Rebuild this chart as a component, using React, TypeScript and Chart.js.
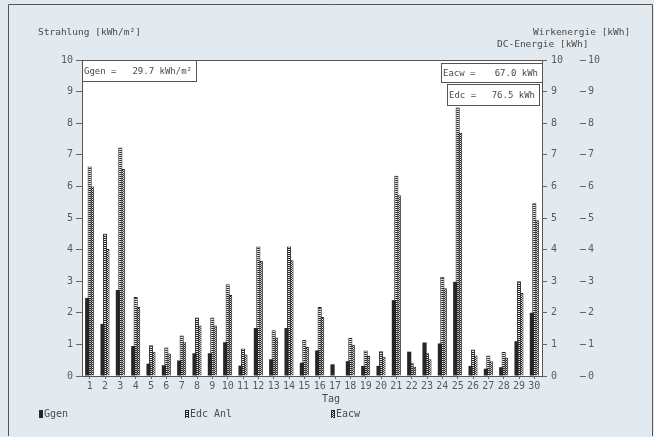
import { useEffect, useRef } from 'react';
import { Chart, registerables } from 'chart.js';

Chart.register(...registerables);

const days = ['1', '2', '3', '4', '5', '6', '7', '8', '9', '10', '11', '12', '13', '14', '15', '16', '17', '18', '19', '20', '21', '22', '23', '24', '25', '26', '27', '28', '29', '30'];
const ggen = [2.47, 1.65, 2.72, 0.95, 0.39, 0.34, 0.49, 0.72, 0.72, 1.07, 0.33, 1.52, 0.53, 1.52, 0.42, 0.81, 0.37, 0.47, 0.32, 0.32, 2.4, 0.77, 1.06, 1.03, 2.98, 0.32, 0.23, 0.28, 1.1, 2.0];
const edcAnl = [6.63, 4.5, 7.23, 2.5, 0.97, 0.9, 1.28, 1.85, 1.85, 2.9, 0.87, 4.1, 1.45, 4.1, 1.14, 2.18, 0, 1.2, 0.81, 0.78, 6.34, 0.42, 0.72, 3.14, 8.5, 0.84, 0.65, 0.76, 3.0, 5.47];
const eacw = [6.0, 4.02, 6.55, 2.18, 0.77, 0.71, 1.07, 1.6, 1.6, 2.56, 0.68, 3.64, 1.22, 3.66, 0.92, 1.87, 0, 0.99, 0.63, 0.61, 5.72, 0.29, 0.53, 2.78, 7.7, 0.65, 0.47, 0.58, 2.63, 4.93];
const seriesNames = ['Ggen', 'Edc Anl', 'Eacw'];
const axisMin = 0;
const axisMax = 10;
const axisStep = 1;
const leftTitle = 'Strahlung [kWh/m²]';
const rightTitle1 = 'Wirkenergie [kWh]';
const rightTitle2 = 'DC-Energie [kWh]';
const xTitle = 'Tag';
const ggenSummary = ['Ggen =', '29.7 kWh/m²'];
const eacwSummary = ['Eacw =', '67.0 kWh'];
const edcSummary = ['Edc =', '76.5 kWh'];

const TEXT = '#4a4a4a';
const TICK = '#5a5a5a';
const DARK = '#262626';
const BG = '#e3eaef';
const MONO = '"DejaVu Sans Mono", "Liberation Mono", monospace';

function makePattern(cells: string[][]) {
  const c = document.createElement('canvas');
  c.height = cells.length;
  c.width = cells[0].length;
  const g = c.getContext('2d')!;
  cells.forEach((row, y) => row.forEach((col, x) => {
    g.fillStyle = col;
    g.fillRect(x, y, 1, 1);
  }));
  return g.createPattern(c, 'repeat')!;
}

export default function App() {
  const ref = useRef<HTMLCanvasElement | null>(null);

  useEffect(() => {
    document.body.style.margin = '0';
    const canvas = ref.current!;
    const edcPattern = makePattern([[DARK], ['#ececec']]);
    const eacwPattern = makePattern([[DARK, '#e8e8e8'], ['#e8e8e8', DARK]]);

    const decor = {
      id: 'decor',
      beforeDraw(chart: any) {
        const { ctx, chartArea: a, width, height } = chart;
        ctx.save();
        ctx.fillStyle = BG;
        ctx.fillRect(0, 0, width, height);
        ctx.strokeStyle = '#555';
        ctx.lineWidth = 1;
        ctx.beginPath();
        ctx.moveTo(8.5, 436);
        ctx.lineTo(8.5, 4.5);
        ctx.lineTo(652.5, 4.5);
        ctx.lineTo(652.5, 436);
        ctx.stroke();
        ctx.fillStyle = '#ffffff';
        ctx.fillRect(a.left, a.top, a.right - a.left, a.bottom - a.top);
        ctx.restore();
      },
      afterDraw(chart: any) {
        const { ctx, chartArea: a } = chart;
        ctx.save();
        ctx.strokeStyle = '#555';
        ctx.lineWidth = 1;
        ctx.strokeRect(Math.round(a.left) + 0.5, Math.round(a.top) + 0.5, Math.round(a.right - a.left), Math.round(a.bottom - a.top));

        ctx.fillStyle = TEXT;
        ctx.textBaseline = 'middle';
        ctx.font = `9.5px ${MONO}`;
        ctx.textAlign = 'left';
        ctx.fillText(leftTitle, 38, 33);
        ctx.fillText(rightTitle1, 533, 33);
        ctx.fillText(rightTitle2, 497, 45);
        ctx.font = `10px ${MONO}`;
        ctx.textAlign = 'center';
        ctx.fillText(xTitle, 331, 399);

        const box = (x: number, y: number, w: number, h: number, label: string[]) => {
          ctx.fillStyle = '#ffffff';
          ctx.fillRect(x, y, w, h);
          ctx.strokeStyle = '#555';
          ctx.strokeRect(x + 0.5, y + 0.5, w, h);
          ctx.fillStyle = TEXT;
          ctx.font = `9px ${MONO}`;
          ctx.textAlign = 'left';
          ctx.fillText(label[0], x + 2, y + h / 2 + 1);
          ctx.textAlign = 'right';
          ctx.fillText(label[1], x + w - 4, y + h / 2 + 1);
        };
        box(82, 60, 114, 21, ggenSummary);
        box(441, 63, 101, 19, eacwSummary);
        box(447, 84, 92, 21, edcSummary);

        const fills = [DARK, edcPattern, eacwPattern];
        const xs = [39, 185, 331];
        ctx.font = `10px ${MONO}`;
        ctx.textAlign = 'left';
        seriesNames.forEach((n, i) => {
          ctx.fillStyle = DARK;
          ctx.fillRect(xs[i], 410, 4, 8);
          if (i > 0) {
            ctx.fillStyle = fills[i];
            ctx.fillRect(xs[i] + 1, 411, 2, 7);
          }
          ctx.fillStyle = TEXT;
          ctx.fillText(n, xs[i] + 5, 414);
        });
        ctx.restore();
      },
    };

    const tickFont = { family: MONO, size: 10 };
    const yCommon = {
      type: 'linear' as const,
      min: axisMin,
      max: axisMax,
      border: { display: false },
      ticks: { stepSize: axisStep, color: TICK, font: tickFont },
    };

    const chart = new Chart(canvas, {
      type: 'bar',
      data: {
        labels: days,
        datasets: [
          { label: seriesNames[0], data: ggen, backgroundColor: DARK, borderWidth: 0, yAxisID: 'y' },
          { label: seriesNames[1], data: edcAnl, backgroundColor: edcPattern as any, borderColor: DARK, borderWidth: { left: 1, right: 1, top: 1, bottom: 0 } as any, yAxisID: 'yR1' },
          { label: seriesNames[2], data: eacw, backgroundColor: eacwPattern as any, borderColor: DARK, borderWidth: { left: 1, right: 1, top: 1, bottom: 0 } as any, yAxisID: 'yR2' },
        ],
      },
      options: {
        responsive: false,
        animation: false,
        datasets: { bar: { categoryPercentage: 0.48, barPercentage: 1.7 } },
        layout: { padding: { top: 60, left: 0, right: 0, bottom: 0 } },
        plugins: { legend: { display: false }, tooltip: { enabled: false } },
        scales: {
          x: {
            offset: true,
            border: { display: false },
            grid: { display: true, drawOnChartArea: false, drawTicks: true, tickLength: 3, color: '#666', offset: false },
            ticks: { color: TICK, font: tickFont, padding: 1, maxRotation: 0, autoSkip: false },
            afterFit: (s: any) => { s.height = 61; },
          },
          y: {
            ...yCommon,
            position: 'left',
            grid: { drawOnChartArea: false, tickLength: 6, color: '#666' },
            ticks: { ...yCommon.ticks, padding: 3 },
            afterFit: (s: any) => { s.width = 82; },
          },
          yR1: {
            ...yCommon,
            position: 'right',
            grid: { drawOnChartArea: false, tickLength: 5, color: '#666' },
            ticks: { ...yCommon.ticks, padding: 4 },
            afterFit: (s: any) => { s.width = 38; },
          },
          yR2: {
            ...yCommon,
            position: 'right',
            grid: { drawOnChartArea: false, tickLength: 6, color: '#666' },
            ticks: { ...yCommon.ticks, padding: 2 },
            afterFit: (s: any) => { s.width = 74; },
          },
        },
      },
      plugins: [decor],
    });
    return () => chart.destroy();
  }, []);

  return (
    <div style={{ position: 'absolute', left: 0, top: 0, width: 654, height: 437 }}>
      <canvas ref={ref} width={654} height={437} style={{ display: 'block' }} />
    </div>
  );
}
